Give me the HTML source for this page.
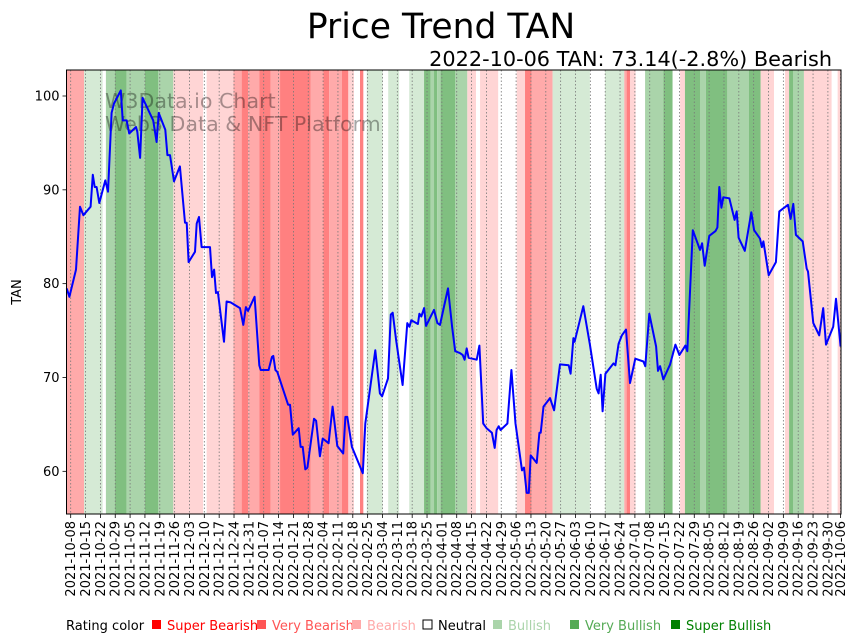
<!DOCTYPE html>
<html><head><meta charset="utf-8">
<style>
html,body{margin:0;padding:0;background:#fff;}
svg{display:block;font-family:"DejaVu Sans","Liberation Sans",sans-serif;}
</style></head>
<body>
<svg id="chart" width="859" height="641" viewBox="0 0 859 641" xmlns="http://www.w3.org/2000/svg">
<text x="441" y="38" font-size="34.5" text-anchor="middle" fill="#000">Price Trend TAN</text>
<text x="832" y="66" font-size="20.8" text-anchor="end" fill="#000">2022-10-06 TAN: 73.14(-2.8%) Bearish</text>
<g id="bands"></g>
<g id="grid"></g>
<text x="105" y="108" font-size="20.6" fill="#000" fill-opacity="0.35">W3Data.io Chart</text>
<text x="105" y="131" font-size="20.6" fill="#000" fill-opacity="0.35">Web3 Data &amp; NFT Platform</text>
<g id="line"></g>
<rect x="66.5" y="70" width="774.5" height="444" fill="none" stroke="#000" stroke-width="1"/>
<g id="yaxis"></g>
<g id="xaxis"></g>
<text transform="translate(21,292) rotate(-90)" font-size="13" text-anchor="middle">TAN</text>
<g id="legend"></g>
</svg>
<script>
const NS="http://www.w3.org/2000/svg";
// band data: start day offset (from 2021-10-08), rating (-3..3)
const bandStarts=[-1.9,6.3,15.1,16.6,20.9,26.4,35,41.3,48.4,62.5,64.1,76.7,80.6,83.7,88.9,94.3,98.7,113.2,119.1,121.9,127.8,130.9,133.6,136.4,138,139.6,147.1,149.7,154.9,159.6,166.6,169.7,171.3,172.8,174.4,181.2,187,191.1,193,201.6,210.3,214.2,217.3,227.2,244.8,251.9,261,262.1,263.7,266.4,270.8,279.4,283.8,287.3,289.6,296.7,299.5,309.6,319.8,325.3,331.6,336.8,338.7,340.7,345.7,358.8,361.6];
const bandRatings=[-2,1,0,2,3,2,3,2,-1,0,-1,-2,-3,-2,-3,-2,-3,-2,-3,-2,-3,-1,0,-3,0,1,0,1,0,1,3,2,3,2,3,2,-1,0,-1,0,-1,-3,-2,1,0,1,-2,-3,-1,0,2,3,0,-1,3,2,3,2,3,-1,0,-1,3,2,-1,0,-1];
const bandEnd=363.2;
// price series
const days=[-1.9,-0.6,2.5,4.4,6.0,9.4,10.4,11.3,12.2,13.5,16.3,17.6,19.3,20.4,23.6,24.5,26.4,27.6,30.8,31.4,32.7,33.9,38.9,40.5,41.5,44.6,45.6,46.8,48.7,51.5,53.9,54.7,55.6,58.6,59.4,60.5,61.7,65.7,66.6,67.6,68.5,69.4,72.3,73.5,75.4,79.8,81.4,82.6,83.6,86.7,88.9,89.6,93.3,94.9,95.5,96.5,97.4,102.5,103.4,104.7,107.5,108.4,109.4,110.6,111.6,114.7,115.7,117.5,118.8,121.6,123.5,125.7,128.5,129.5,130.4,132.6,137.7,138.9,143.6,145.8,146.8,149.6,150.9,151.8,153.4,156.5,158.7,159.7,160.6,163.7,164.4,165.3,166.6,167.5,171.3,172.9,174.1,177.9,179.8,181.3,183.5,184.8,185.7,186.7,187.6,191.4,192.7,194.5,196.1,198.6,199.9,200.8,201.8,202.7,205.9,207.8,209.7,212.8,213.7,215.0,216.0,216.9,219.7,221.0,221.6,222.9,226.0,227.9,230.7,234.8,235.7,237.0,237.6,241.7,244.8,248.0,248.9,249.9,250.8,252.1,255.9,256.8,258.3,259.9,261.8,263.7,266.2,270.0,270.9,272.8,276.0,276.9,277.9,279.4,282.6,285.1,287.0,289.8,290.7,293.3,296.7,297.7,298.9,301.1,304.0,304.9,305.8,306.8,307.7,310.5,313.0,314.0,314.9,317.8,320.9,322.2,325.0,325.9,326.6,329.1,332.5,334.1,338.2,339.4,340.7,341.9,345.1,347.0,347.6,350.1,352.9,354.8,356.1,359.5,360.8,363.0];
const prices=[79.5,78.6,81.5,88.2,87.3,88.2,91.6,90.3,90.3,88.6,91.0,89.8,98.2,99.2,100.6,97.4,97.4,96.0,96.7,96.2,93.4,99.8,97.4,95.1,98.2,96.4,93.7,93.7,90.9,92.5,86.5,86.5,82.3,83.4,86.4,87.1,83.9,83.9,80.7,81.5,79.0,79.1,73.8,78.1,78.0,77.4,75.6,77.5,77.1,78.6,71.3,70.8,70.8,72.2,72.3,70.8,70.6,67.1,67.1,63.9,64.6,62.6,62.6,60.2,60.4,65.6,65.4,61.6,63.5,63.0,66.9,62.7,61.9,65.8,65.8,62.6,59.8,65.1,72.9,68.3,68.0,69.9,76.7,76.9,74.0,69.2,75.8,75.4,76.1,75.7,76.8,76.5,77.4,75.5,77.2,75.8,75.6,79.5,75.4,72.8,72.6,72.4,71.9,73.1,72.1,71.9,73.4,65.1,64.6,64.1,62.5,64.4,64.8,64.4,65.1,70.8,65.1,60.1,60.4,57.7,57.7,61.7,60.9,64.1,64.1,66.9,67.8,66.5,71.4,71.3,70.4,74.2,73.8,77.6,73.5,68.8,68.3,70.3,66.4,70.4,71.5,71.3,73.6,74.5,75.1,69.4,72.0,71.7,71.2,76.8,73.3,70.7,71.2,69.8,71.4,73.5,72.4,73.4,72.8,85.7,83.6,84.3,81.9,85.1,85.6,86.0,90.3,88.1,89.2,89.1,86.8,87.7,84.9,83.5,87.6,85.7,84.8,83.9,84.5,80.9,82.3,87.7,88.4,86.9,88.5,85.2,84.5,81.6,81.3,75.8,74.5,77.4,73.5,75.4,78.4,73.3];
const yTicks=[60,70,80,90,100];
const xTickLabels=["2021-10-08","2021-10-15","2021-10-22","2021-10-29","2021-11-05","2021-11-12","2021-11-19","2021-11-26","2021-12-03","2021-12-10","2021-12-17","2021-12-24","2021-12-31","2022-01-07","2022-01-14","2022-01-21","2022-01-28","2022-02-04","2022-02-11","2022-02-18","2022-02-25","2022-03-04","2022-03-11","2022-03-18","2022-03-25","2022-04-01","2022-04-08","2022-04-15","2022-04-22","2022-04-29","2022-05-06","2022-05-13","2022-05-20","2022-05-27","2022-06-03","2022-06-10","2022-06-17","2022-06-24","2022-07-01","2022-07-08","2022-07-15","2022-07-22","2022-07-29","2022-08-05","2022-08-12","2022-08-19","2022-08-26","2022-09-02","2022-09-09","2022-09-16","2022-09-23","2022-09-30","2022-10-06"];
const xTickDays=xTickLabels.map((s,i)=>i<52?i*7:363);
const legendLabels=["Super Bearish","Very Bearish","Bearish","Neutral","Bullish","Very Bullish","Super Bullish"];
const legendColors=["#ff0000","#ff5555","#ffaaaa","#ffffff","#aad4aa","#55aa55","#008000"];

const X0=70.7,DX=2.121,PL=66.5,PR=841,PT=70,PB=514;
const xs=d=>X0+d*DX;
const ys=v=>96+(100-v)*9.383;
const bandColor={"-3":"#ff8080","-2":"#ffaaaa","-1":"#ffd5d5","0":"#ffffff","1":"#d5ead5","2":"#aad4aa","3":"#80bf80"};
function mk(tag,attrs,parent){const e=document.createElementNS(NS,tag);for(const k in attrs)e.setAttribute(k,attrs[k]);parent.appendChild(e);return e;}

const gB=document.getElementById('bands');
bandStarts.forEach((s,i)=>{
  const e=i<bandStarts.length-1?bandStarts[i+1]:bandEnd;
  const x1=Math.max(PL,xs(s)),x2=Math.min(PR,xs(e));
  const r=mk('rect',{x:x1,y:PT,width:Math.max(0,x2-x1),height:PB-PT,fill:bandColor[bandRatings[i]]},gB);
  
  
});
const gG=document.getElementById('grid');
const gX=document.getElementById('xaxis');
xTickDays.forEach((d,i)=>{
  const x=xs(d);
  const l=mk('line',{x1:x,x2:x,y1:PT,y2:PB,stroke:'#777','stroke-width':0.8,'stroke-dasharray':'1.5,2'},gG);
  
  
  const t=mk('line',{x1:x,x2:x,y1:PB,y2:PB+4,stroke:'#000','stroke-width':0.8},gX);
  
  
  const tx=mk('text',{transform:`translate(${x+4.5},${PB+7}) rotate(-90)`,'font-size':13,'text-anchor':'end'},gX);
  tx.textContent=xTickLabels[i];
  
  
});
const gY=document.getElementById('yaxis');
yTicks.forEach(v=>{
  const y=ys(v);
  const t=mk('line',{x1:PL-4,x2:PL,y1:y,y2:y,stroke:'#000','stroke-width':0.8},gY);
  
  
  const tx=mk('text',{x:PL-7,y:y+4.5,'font-size':13,'text-anchor':'end'},gY);
  tx.textContent=v;
  
  
});
const gL=document.getElementById('line');
const p=mk('polyline',{points:days.map((d,i)=>xs(d).toFixed(1)+','+ys(prices[i]).toFixed(1)).join(' '),fill:'none',stroke:'#0000ff','stroke-width':2,'stroke-linejoin':'round'},gL);



const gLe=document.getElementById('legend');
const lt=mk('text',{x:66,y:630,'font-size':13,fill:'#000'},gLe);
lt.textContent='Rating color';


const legX=[152,257,352,423,493,570,671];
legendLabels.forEach((lab,i)=>{
  const x=legX[i];
  const sq=mk('rect',{x:x,y:620,width:9,height:9,fill:legendColors[i],stroke:i===3?'#000':'none','stroke-width':1},gLe);
  
  
  const t=mk('text',{x:x+15,y:630,'font-size':13,fill:i===3?'#000':legendColors[i]},gLe);
  t.textContent=lab;
  
  
});
</script>
</body></html>
